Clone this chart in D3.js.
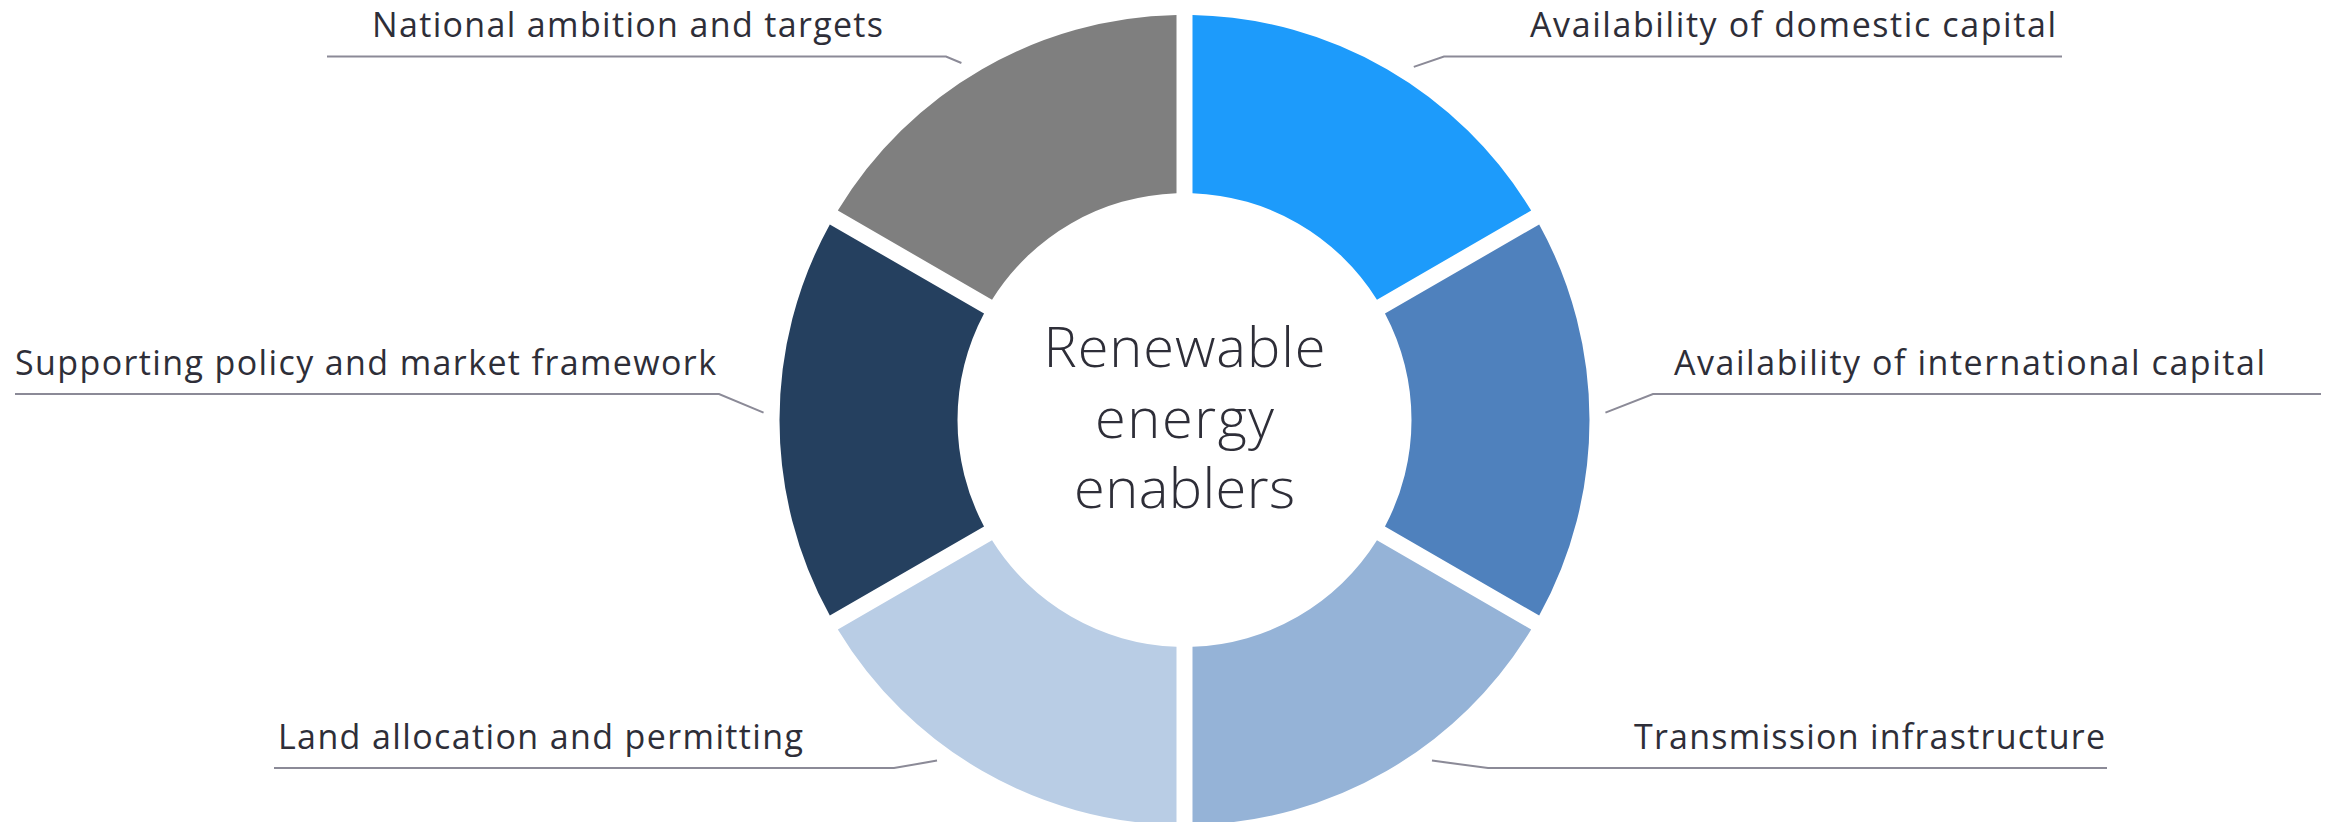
<!DOCTYPE html>
<html>
<head>
<meta charset="utf-8">
<script src="https://cdn.jsdelivr.net/npm/d3@7"></script>
<style>
  html, body { margin: 0; padding: 0; background: #ffffff; }
  svg { display: block; }
</style>
</head>
<body>
<svg id="chart" width="2333" height="822"></svg>
<script>
// ---- Data ----
const categories = [
  "Availability of domestic capital",
  "Availability of international capital",
  "Transmission infrastructure",
  "Land allocation and permitting",
  "Supporting policy and market framework",
  "National ambition and targets"
];
const values = [1, 1, 1, 1, 1, 1];
const centerLines = ["Renewable", "energy", "enablers"];

// ---- Styles / layout (kept separate from data) ----
const colors = ["#1d9bfb", "#4f81bd", "#95b3d7", "#b9cde5", "#25405f", "#7f7f7f"];
const textColor = "#2e2e38";
const leaderColor = "#8b8a97";
const W = 2333, H = 822;
const cx = 1184.5, cy = 420;
const outerR = 405, innerR = 227, gap = 16;

// label layout: leader anchor angle (deg from 12 o'clock), elbow x, line y, far end x, text x, target text width
const labelLayout = [
  { ang: 33,  elbowX: 1444, lineY: 56.5, endX: 2062, textX: 1530, tw: 526 },
  { ang: 89,  elbowX: 1653, lineY: 394,  endX: 2321, textX: 1674, tw: 591 },
  { ang: 144, elbowX: 1488, lineY: 768,  endX: 2107, textX: 1634, tw: 471 },
  { ang: 216, elbowX: 894,  lineY: 768,  endX: 274,  textX: 278,  tw: 525 },
  { ang: 271, elbowX: 719,  lineY: 394,  endX: 15,   textX: 15,   tw: 701 },
  { ang: 328, elbowX: 946,  lineY: 56.5, endX: 327,  textX: 372,  tw: 511 }
];

const svg = d3.select("#chart");
svg.append("rect").attr("width", W).attr("height", H).attr("fill", "#ffffff");

const g = svg.append("g").attr("transform", `translate(${cx},${cy})`);

const pie = d3.pie().sort(null).value(d => d).padAngle(gap / outerR);
const arcs = pie(values);
const arc = d3.arc().innerRadius(innerR).outerRadius(outerR).padRadius(outerR);

g.selectAll("path.slice")
  .data(arcs)
  .join("path")
  .attr("class", "slice")
  .attr("d", arc)
  .attr("fill", (d, i) => colors[i]);

// Center text
const centerBaselines = [366.7, 438, 508];
const centerWidths = [282, 179, 221];
svg.selectAll("text.center")
  .data(centerLines)
  .join("text")
  .attr("class", "center")
  .attr("x", cx)
  .attr("y", (d, i) => centerBaselines[i])
  .attr("text-anchor", "middle")
  .attr("font-family", "'Open Sans', sans-serif")
  .attr("font-weight", 300)
  .attr("font-size", 56)
  .attr("fill", textColor)
  .attr("textLength", (d, i) => centerWidths[i])
  .attr("lengthAdjust", "spacing")
  .text(d => d);

// Leaders and labels
const leaderR = outerR + 16;
categories.forEach((name, i) => {
  const L = labelLayout[i];
  const a = L.ang * Math.PI / 180;
  const sx = cx + leaderR * Math.sin(a);
  const sy = cy - leaderR * Math.cos(a);
  svg.append("polyline")
    .attr("points", [[sx, sy], [L.elbowX, L.lineY], [L.endX, L.lineY]].map(p => p.join(",")).join(" "))
    .attr("fill", "none")
    .attr("stroke", leaderColor)
    .attr("stroke-width", 2);
  svg.append("text")
    .attr("x", L.textX)
    .attr("y", L.lineY - 19.5)
    .attr("font-family", "'Open Sans', sans-serif")
    .attr("font-size", 34)
    .attr("fill", textColor)
    .attr("textLength", L.tw)
    .attr("lengthAdjust", "spacing")
    .text(name);
});
</script>
</body>
</html>
